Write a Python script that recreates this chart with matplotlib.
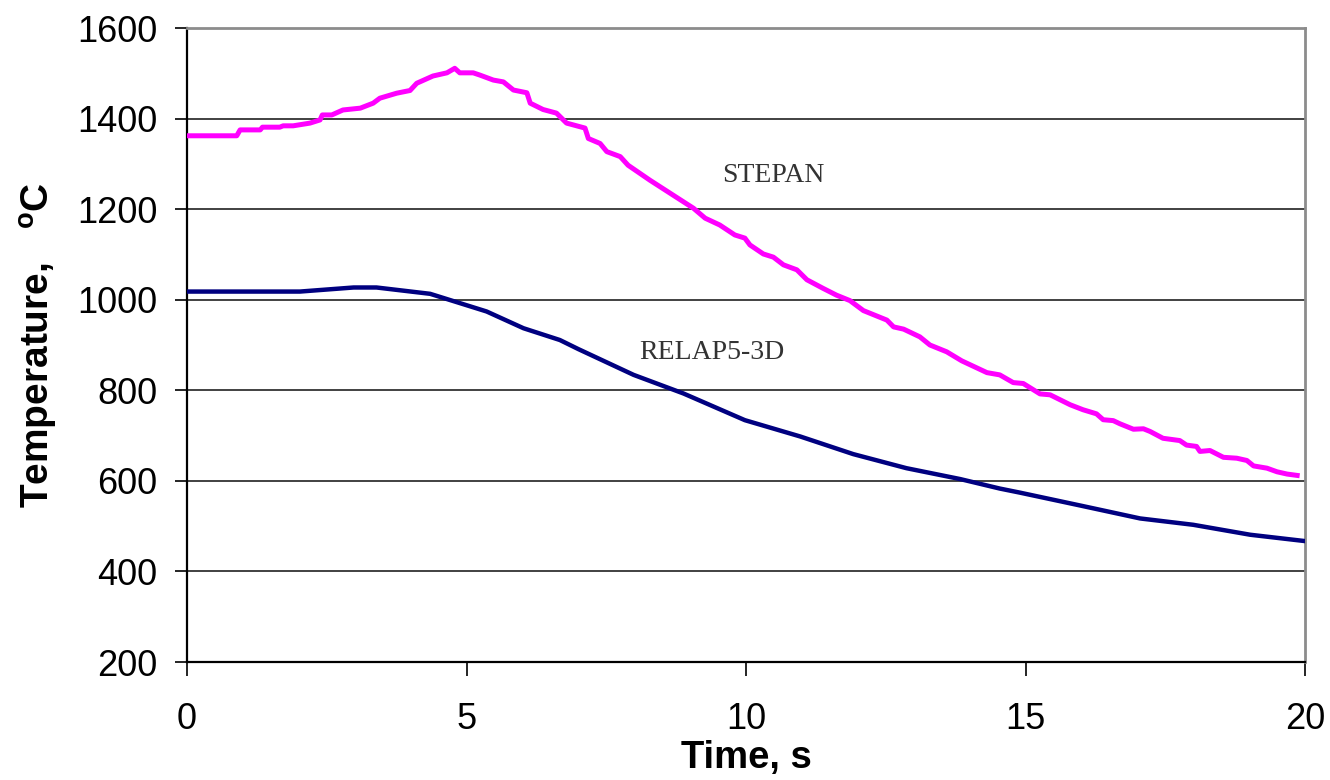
import matplotlib
matplotlib.use("Agg")
import matplotlib.pyplot as plt

# STEPAN cladding temperature history
stepan_t = [0, 0.89, 0.95, 1.31, 1.35, 1.66, 1.72, 1.9, 2.2, 2.38, 2.42, 2.59, 2.79,
            3.1, 3.33, 3.45, 3.75, 3.99, 4.11, 4.40, 4.65, 4.79, 4.88, 5.12, 5.24,
            5.48, 5.66, 5.84, 6.08, 6.14, 6.37, 6.61, 6.79, 7.12, 7.18, 7.39, 7.51,
            7.75, 7.89, 8.28, 9.06, 9.27, 9.53, 9.80, 9.98, 10.07, 10.31, 10.49,
            10.67, 10.91, 11.09, 11.38, 11.62, 11.86, 12.10, 12.52, 12.64, 12.82,
            13.11, 13.29, 13.59, 13.86, 14.31, 14.54, 14.78, 14.96, 15.26, 15.44,
            15.80, 16.03, 16.27, 16.39, 16.57, 16.69, 16.93, 17.11, 17.23, 17.46,
            17.76, 17.88, 18.06, 18.12, 18.30, 18.54, 18.78, 18.96, 19.08, 19.32,
            19.50, 19.68, 19.86]
stepan_T = [1362, 1362, 1375, 1375, 1381, 1381, 1384, 1384, 1390, 1397, 1408, 1408, 1419,
            1423, 1434, 1445, 1456, 1462, 1478, 1494, 1501, 1511, 1501, 1501, 1496,
            1485, 1481, 1463, 1457, 1434, 1420, 1412, 1390, 1379, 1356, 1345, 1327,
            1316, 1297, 1264, 1202, 1180, 1165, 1143, 1136, 1121, 1101, 1094,
            1077, 1066, 1044, 1025, 1010, 998, 976, 955, 940, 935,
            918, 900, 885, 865, 839, 834, 817, 815, 792, 790,
            768, 757, 748, 735, 733, 726, 714, 715, 709, 694,
            689, 679, 676, 665, 667, 652, 650, 645, 633, 628,
            620, 615, 612]

# RELAP5-3D cladding temperature history
relap_t = [0, 1.0, 2.02, 2.98, 3.39, 4.35, 5.36, 6.02, 6.67, 7.0, 7.99, 8.88, 9.98,
           10.97, 11.92, 12.87, 13.83, 14.54, 14.90, 16.0, 17.05, 18.0, 19.02, 20.0]
relap_T = [1018, 1018, 1018, 1027, 1027, 1013, 974, 937, 911, 891, 834, 793, 734,
           698, 659, 628, 604, 583, 574, 545, 517, 503, 481, 467]

x_ticks = [0, 5, 10, 15, 20]
y_ticks = [200, 400, 600, 800, 1000, 1200, 1400, 1600]

plt.rcParams['font.family'] = ['Liberation Sans', 'DejaVu Sans']
plt.rcParams['mathtext.fontset'] = 'custom'
plt.rcParams['mathtext.bf'] = 'Liberation Sans:bold'
plt.rcParams['mathtext.rm'] = 'Liberation Sans'

fig = plt.figure(figsize=(13.3, 7.8), dpi=100)
ax = fig.add_axes([187 / 1330, 1 - 662 / 780, (1305 - 187) / 1330, (662 - 28) / 780])

ax.set_xlim(0, 20)
ax.set_ylim(200, 1600)
ax.set_xticks(x_ticks)
ax.set_yticks(y_ticks)

for y in y_ticks[1:-1]:
    ax.axhline(y, color='#333333', lw=1.3, zorder=1)

ax.plot(stepan_t, stepan_T, color='#FF00FF', lw=3.6, zorder=3, solid_joinstyle='round')
ax.plot(relap_t, relap_T, color='#000080', lw=3.2, zorder=3, solid_joinstyle='round')

ax.text(10.48, 1275, 'STEPAN', family='Liberation Serif', fontsize=20,
        color='#333333', ha='center', va='center')
ax.text(9.38, 884, 'RELAP5-3D', family='Liberation Serif', fontsize=20,
        color='#333333', ha='center', va='center')

for side in ('left', 'bottom'):
    ax.spines[side].set_color('black')
    ax.spines[side].set_linewidth(1.6)
for side in ('top', 'right'):
    ax.spines[side].set_color('#8c8c8c')
    ax.spines[side].set_linewidth(2.0)

ax.tick_params(axis='y', direction='out', length=8.5, width=1.2, labelsize=26, pad=13)
ax.tick_params(axis='x', direction='out', length=10, width=1.2, labelsize=26, pad=19)

ax.set_xlabel('Time, s', fontsize=27.5, fontweight='bold', labelpad=2)
ax.set_ylabel(r'Temperature,   $^{\mathbf{o}}$C', fontsize=28, fontweight='bold', labelpad=12)

fig.savefig('out.png', dpi=100)
